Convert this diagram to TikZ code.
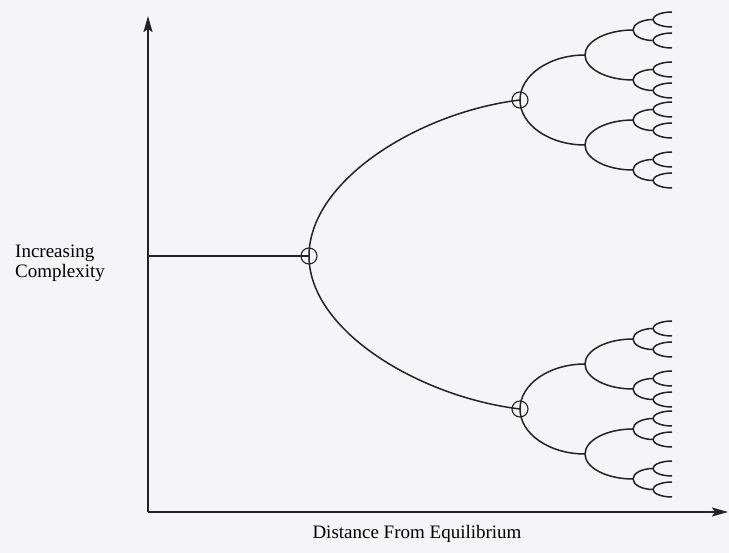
\documentclass[tikz,border=0pt]{standalone}
\usepackage{fontspec}
\setmainfont{Liberation Serif}
\usetikzlibrary{arrows.meta}
\definecolor{bgc}{RGB}{245,244,246}
\definecolor{ink}{RGB}{35,35,35}
\newcommand\brc[4]{\draw[br] (#1,#2) .. controls (#1,{#2+0.55*(#4-#2)}) and ({#1+0.45*(#3-#1)},#4) .. (#3,#4);}
\begin{document}
\begin{tikzpicture}[x=1pt,y=-1pt,
  axis/.style={line width=1.9pt, draw=ink, -{Stealth[length=16pt,width=9pt,inset=3pt]}},
  br/.style={line width=1.5pt, draw=ink},
  ring/.style={circle, draw=ink, line width=1.1pt, minimum size=16pt, inner sep=0pt},
  lab/.style={font=\fontsize{19}{19.5}\selectfont, inner sep=0pt, text=black}]
\fill[bgc] (0,0) rectangle (729,553);
\useasboundingbox (0,0) rectangle (729,553);
\coordinate (O) at (148,512);
\coordinate (ytip) at (148,16);
\coordinate (xtip) at (728,512);
\draw[axis] (O) -- (ytip);
\draw[axis] (O) -- (xtip);
\node[ring] (c0) at (309,256) {};
\node[ring] (c1) at (520,100) {};
\node[ring] (c2) at (520,409) {};
\coordinate (h0) at (148,256);
\draw[line width=1.9pt, draw=ink] (h0) -- (c0.center);
\draw[br] (c0.center) .. controls (309,180) and (420,112) .. (c1.center);
\draw[br] (c0.center) .. controls (309,331) and (420,397) .. (c2.center);
\foreach \ya in {100,409}{
  \foreach \sa in {-1,1}{
    \pgfmathsetmacro\yb{\ya+\sa*45}
    \brc{520}{\ya}{585}{\yb}
    \foreach \sb in {-1,1}{
      \pgfmathsetmacro\yc{\yb+\sb*25}
      \brc{585}{\yb}{633}{\yc}
      \foreach \sc in {-1,1}{
        \pgfmathsetmacro\yd{\yc+\sc*10.5}
        \brc{633}{\yc}{653}{\yd}
        \foreach \sd in {-1,1}{
          \pgfmathsetmacro\ye{\yd+\sd*7.5}
          \brc{653}{\yd}{672}{\ye}
        }
      }
    }
  }
}
\node[lab, align=left, anchor=north west] (ylab) at (15,245) {Increasing\\Complexity};
\node[lab, anchor=base] (xlab) at (417,538) {Distance From Equilibrium};
\end{tikzpicture}
\end{document}
